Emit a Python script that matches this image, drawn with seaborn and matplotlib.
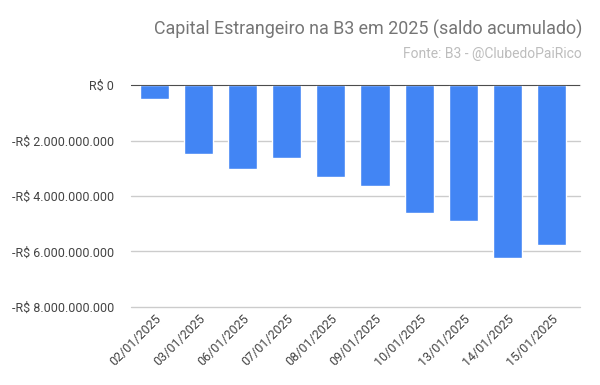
import pandas as pd
import matplotlib
matplotlib.use("Agg")
import matplotlib.pyplot as plt
import seaborn as sns
from matplotlib.ticker import FuncFormatter

# data (saldo acumulado, R$)
dates = ["02/01/2025", "03/01/2025", "06/01/2025", "07/01/2025", "08/01/2025",
         "09/01/2025", "10/01/2025", "13/01/2025", "14/01/2025", "15/01/2025"]
saldo = [-0.51e9, -2.48e9, -3.01e9, -2.62e9, -3.33e9,
         -3.63e9, -4.63e9, -4.92e9, -6.23e9, -5.76e9]
yticks = [0, -2e9, -4e9, -6e9, -8e9]

df = pd.DataFrame({"data": dates, "saldo": saldo})

sns.set_style("white")
plt.rcParams["font.family"] = ["Roboto", "DejaVu Sans"]

fig = plt.figure(figsize=(6, 3.85), dpi=100)
ax = fig.add_axes([0.218, 0.203, 0.749, 0.576])

sns.barplot(data=df, x="data", y="saldo", color="#4285F4", width=0.66,
            saturation=1, ax=ax)

ax.set_ylim(-8e9, 0)
ax.set_yticks(yticks)
ax.set_xlim(-0.533, len(dates) - 0.35)


def brl(v, pos):
    if v == 0:
        return "R$ 0"
    s = f"{abs(v):,.0f}".replace(",", ".")
    return ("-" if v < 0 else "") + "R$ " + s


ax.yaxis.set_major_formatter(FuncFormatter(brl))
ax.grid(axis="y", color="#cccccc", linewidth=1)
for gl in ax.get_ygridlines():
    gl.set_clip_on(False)
ax.set_axisbelow(True)
ax.axhline(0, color="#333333", linewidth=1.2, zorder=5)
for s in ax.spines.values():
    s.set_visible(False)

ax.tick_params(axis="y", length=8, width=1, color="#cccccc",
               labelsize=9, labelcolor="#444444", pad=4)
ax.tick_params(axis="x", length=0, labelsize=9, labelcolor="#444444", pad=4)
plt.setp(ax.get_xticklabels(), rotation=45, ha="right", rotation_mode="anchor")
ax.set_xlabel("")
ax.set_ylabel("")

fig.text(0.97, 0.91, "Capital Estrangeiro na B3 em 2025 (saldo acumulado)",
         ha="right", va="baseline", fontsize=12.85, color="#757575")
fig.text(0.97, 0.85, "Fonte: B3 - @ClubedoPaiRico",
         ha="right", va="baseline", fontsize=10, color="#bdbdbd")

fig.savefig("out.png", dpi=100)
